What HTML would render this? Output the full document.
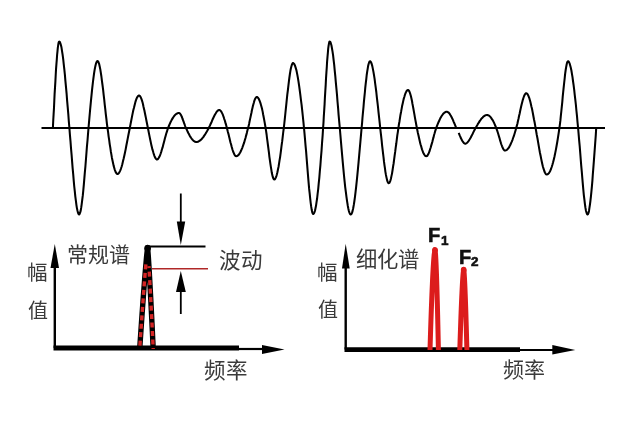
<!DOCTYPE html>
<html lang="zh-CN"><head><meta charset="utf-8"><style>
html,body{margin:0;padding:0;background:#fff;width:640px;height:426px;overflow:hidden}
svg{position:absolute;left:0;top:0}
.t{position:absolute;font-family:"Liberation Serif",serif;color:#3a3a3a;white-space:nowrap;line-height:1;will-change:transform}
.f{position:absolute;font-family:"Liberation Sans",sans-serif;font-weight:bold;color:#111;white-space:nowrap;line-height:1;-webkit-text-stroke:0.6px #111;will-change:transform}
</style></head><body>
<svg width="640" height="426" viewBox="0 0 640 426">
<line x1="41.5" y1="128" x2="605" y2="128" stroke="#000" stroke-width="2"/>
<path d="M52.9,128.0 L53.2,121.2 L53.6,114.4 L54.0,107.6 L54.3,100.8 L54.6,94.1 L55.0,87.6 L55.4,81.3 L55.7,75.3 L56.0,69.6 L56.4,64.3 L56.8,59.4 L57.1,55.0 L57.5,51.1 L57.8,47.8 L58.2,45.1 L58.5,43.1 L58.9,41.9 L59.2,41.5 L59.8,41.9 L60.3,43.1 L60.9,45.0 L61.5,47.6 L62.0,50.9 L62.6,54.7 L63.2,59.1 L63.7,63.9 L64.3,69.2 L64.9,74.9 L65.4,80.9 L66.0,87.2 L66.6,93.7 L67.1,100.4 L67.7,107.2 L68.3,114.1 L68.8,121.1 L69.4,128.0 L69.4,128.0 L69.9,134.6 L70.5,141.3 L71.0,148.1 L71.6,154.8 L72.1,161.4 L72.6,167.9 L73.2,174.2 L73.7,180.3 L74.2,186.0 L74.8,191.4 L75.3,196.3 L75.9,200.8 L76.4,204.8 L76.9,208.1 L77.5,210.8 L78.0,212.8 L78.6,214.1 L79.1,214.5 L79.6,214.0 L80.1,212.7 L80.7,210.6 L81.2,207.7 L81.7,204.2 L82.2,200.1 L82.8,195.4 L83.3,190.3 L83.8,184.8 L84.3,178.9 L84.8,172.8 L85.4,166.5 L85.9,160.0 L86.4,153.5 L86.9,146.9 L87.5,140.5 L88.0,134.1 L88.5,128.0 L88.5,128.0 L89.0,122.3 L89.5,116.6 L90.0,111.0 L90.5,105.6 L91.0,100.3 L91.5,95.3 L92.0,90.4 L92.5,85.8 L93.0,81.5 L93.5,77.6 L94.0,73.9 L94.5,70.7 L95.0,67.9 L95.5,65.5 L96.0,63.6 L96.5,62.2 L97.0,61.3 L97.5,61.0 L98.1,61.4 L98.6,62.5 L99.2,64.2 L99.7,66.5 L100.3,69.4 L100.8,72.7 L101.4,76.5 L101.9,80.6 L102.5,85.0 L103.1,89.6 L103.6,94.4 L104.2,99.3 L104.7,104.3 L105.3,109.3 L105.8,114.2 L106.4,119.0 L106.9,123.6 L107.5,128.0 L107.5,128.0 L108.1,132.2 L108.6,136.3 L109.2,140.2 L109.7,144.1 L110.3,147.7 L110.8,151.2 L111.4,154.6 L111.9,157.7 L112.5,160.5 L113.1,163.2 L113.6,165.6 L114.2,167.7 L114.7,169.6 L115.3,171.1 L115.8,172.4 L116.4,173.3 L116.9,173.8 L117.5,174.0 L118.2,173.8 L118.9,173.1 L119.5,172.0 L120.2,170.6 L120.9,168.8 L121.6,166.7 L122.3,164.3 L122.9,161.6 L123.6,158.8 L124.3,155.7 L125.0,152.5 L125.7,149.1 L126.3,145.7 L127.0,142.2 L127.7,138.6 L128.4,135.0 L129.1,131.5 L129.8,128.0 L129.8,128.0 L130.3,125.4 L130.8,122.8 L131.3,120.2 L131.8,117.6 L132.3,115.1 L132.8,112.6 L133.3,110.2 L133.9,108.0 L134.4,105.9 L134.9,103.9 L135.4,102.1 L135.9,100.4 L136.4,99.0 L136.9,97.8 L137.5,96.8 L138.0,96.1 L138.5,95.7 L139.0,95.5 L139.5,95.7 L140.0,96.1 L140.5,96.9 L141.0,97.9 L141.5,99.2 L142.0,100.6 L142.5,102.3 L143.0,104.2 L143.4,106.2 L143.9,108.4 L144.4,110.6 L144.9,113.0 L145.4,115.5 L145.9,117.9 L146.4,120.5 L146.9,123.0 L147.4,125.5 L147.9,128.0 L147.9,128.0 L148.4,130.5 L148.9,133.1 L149.4,135.6 L149.9,138.1 L150.4,140.5 L150.9,142.9 L151.4,145.2 L151.9,147.3 L152.4,149.4 L153.0,151.3 L153.5,153.1 L154.0,154.7 L154.5,156.1 L155.0,157.3 L155.5,158.2 L156.0,158.9 L156.5,159.4 L157.0,159.5 L157.6,159.3 L158.2,158.7 L158.8,157.8 L159.5,156.6 L160.1,155.2 L160.7,153.5 L161.3,151.6 L161.9,149.5 L162.6,147.4 L163.2,145.1 L163.8,142.8 L164.4,140.5 L165.0,138.1 L165.6,135.9 L166.2,133.7 L166.9,131.6 L167.5,129.7 L168.1,128.0 L168.1,128.0 L168.7,126.5 L169.3,125.0 L169.9,123.6 L170.5,122.3 L171.1,121.1 L171.7,119.9 L172.3,118.9 L172.9,117.9 L173.5,117.0 L174.1,116.2 L174.7,115.4 L175.3,114.8 L175.9,114.3 L176.5,113.8 L177.1,113.5 L177.7,113.2 L178.3,113.1 L178.9,113.0 L179.3,113.1 L179.7,113.3 L180.1,113.7 L180.5,114.3 L180.9,114.9 L181.3,115.7 L181.7,116.5 L182.1,117.5 L182.4,118.5 L182.8,119.5 L183.2,120.6 L183.6,121.7 L184.0,122.8 L184.4,123.9 L184.8,125.0 L185.2,126.1 L185.6,127.1 L186.0,128.0 L186.0,128.0 L186.6,129.3 L187.2,130.6 L187.7,131.8 L188.3,133.0 L188.9,134.1 L189.5,135.2 L190.0,136.2 L190.6,137.1 L191.2,138.0 L191.8,138.8 L192.4,139.5 L192.9,140.1 L193.5,140.7 L194.1,141.2 L194.7,141.5 L195.2,141.8 L195.8,141.9 L196.4,142.0 L197.1,141.9 L197.8,141.8 L198.5,141.5 L199.1,141.1 L199.8,140.7 L200.5,140.1 L201.2,139.5 L201.9,138.8 L202.6,137.9 L203.3,137.1 L203.9,136.1 L204.6,135.1 L205.3,134.1 L206.0,132.9 L206.7,131.8 L207.4,130.6 L208.1,129.3 L208.8,128.0 L208.8,128.0 L209.3,126.8 L209.9,125.6 L210.5,124.3 L211.1,123.0 L211.7,121.7 L212.2,120.4 L212.8,119.0 L213.4,117.7 L214.0,116.5 L214.6,115.3 L215.2,114.2 L215.8,113.2 L216.3,112.3 L216.9,111.5 L217.5,110.9 L218.1,110.4 L218.7,110.1 L219.2,110.0 L219.7,110.1 L220.1,110.3 L220.5,110.7 L220.9,111.2 L221.4,111.8 L221.8,112.6 L222.2,113.4 L222.7,114.4 L223.1,115.5 L223.5,116.6 L223.9,117.8 L224.3,119.1 L224.8,120.5 L225.2,121.9 L225.6,123.4 L226.1,124.9 L226.5,126.4 L226.9,128.0 L226.9,128.0 L227.4,130.0 L227.9,132.0 L228.5,134.1 L229.0,136.2 L229.5,138.3 L230.0,140.5 L230.5,142.5 L231.1,144.5 L231.6,146.5 L232.1,148.3 L232.6,150.0 L233.1,151.5 L233.7,152.9 L234.2,154.0 L234.7,155.0 L235.2,155.7 L235.7,156.1 L236.2,156.2 L236.9,156.1 L237.6,155.8 L238.2,155.3 L238.9,154.5 L239.5,153.6 L240.2,152.4 L240.9,151.1 L241.5,149.7 L242.2,148.1 L242.8,146.3 L243.5,144.4 L244.2,142.4 L244.8,140.2 L245.5,138.0 L246.1,135.6 L246.8,133.1 L247.4,130.6 L248.1,128.0 L248.1,128.0 L248.6,126.0 L249.1,123.9 L249.5,121.7 L250.0,119.4 L250.5,117.1 L251.0,114.8 L251.5,112.5 L251.9,110.3 L252.4,108.2 L252.9,106.1 L253.4,104.2 L253.9,102.5 L254.3,100.9 L254.8,99.6 L255.3,98.5 L255.8,97.7 L256.3,97.2 L256.8,97.0 L257.2,97.1 L257.7,97.5 L258.2,98.0 L258.7,98.8 L259.2,99.8 L259.7,101.0 L260.2,102.4 L260.7,103.9 L261.2,105.7 L261.7,107.6 L262.2,109.6 L262.7,111.9 L263.1,114.2 L263.6,116.7 L264.1,119.4 L264.6,122.1 L265.1,125.0 L265.6,128.0 L265.6,128.0 L266.1,131.1 L266.6,134.5 L267.0,138.0 L267.5,141.7 L268.0,145.5 L268.5,149.3 L269.0,153.1 L269.4,156.8 L269.9,160.4 L270.4,163.9 L270.9,167.1 L271.4,170.1 L271.8,172.8 L272.3,175.1 L272.8,176.9 L273.3,178.3 L273.8,179.2 L274.2,179.5 L274.8,179.3 L275.3,178.6 L275.8,177.6 L276.4,176.1 L276.9,174.3 L277.4,172.2 L277.9,169.7 L278.5,167.0 L279.0,163.9 L279.5,160.6 L280.1,157.1 L280.6,153.4 L281.1,149.5 L281.6,145.4 L282.2,141.2 L282.7,136.9 L283.2,132.5 L283.8,128.0 L283.8,128.0 L284.3,123.5 L284.8,118.8 L285.3,114.0 L285.8,109.1 L286.3,104.3 L286.8,99.4 L287.3,94.6 L287.9,90.0 L288.4,85.6 L288.9,81.4 L289.4,77.5 L289.9,74.0 L290.4,70.8 L290.9,68.2 L291.5,66.0 L292.0,64.4 L292.5,63.3 L293.0,63.0 L293.6,63.3 L294.2,64.0 L294.8,65.2 L295.4,66.9 L296.1,69.1 L296.7,71.6 L297.3,74.6 L297.9,77.9 L298.5,81.6 L299.1,85.6 L299.7,90.0 L300.3,94.7 L300.9,99.6 L301.6,104.8 L302.2,110.3 L302.8,116.0 L303.4,121.9 L304.0,128.0 L304.0,128.0 L304.5,133.4 L305.0,139.2 L305.5,145.2 L306.1,151.4 L306.6,157.8 L307.1,164.2 L307.6,170.5 L308.1,176.7 L308.6,182.7 L309.1,188.4 L309.7,193.7 L310.2,198.6 L310.7,203.0 L311.2,206.7 L311.7,209.8 L312.2,212.1 L312.7,213.5 L313.2,214.0 L313.8,213.7 L314.3,212.6 L314.9,211.0 L315.4,208.7 L316.0,205.8 L316.5,202.4 L317.1,198.5 L317.6,194.0 L318.2,189.1 L318.7,183.7 L319.3,177.9 L319.8,171.7 L320.4,165.2 L320.9,158.3 L321.5,151.1 L322.0,143.6 L322.6,135.9 L323.1,128.0 L323.1,128.0 L323.5,122.4 L323.8,116.5 L324.2,110.4 L324.6,104.1 L324.9,97.7 L325.3,91.2 L325.7,84.9 L326.0,78.6 L326.4,72.6 L326.8,66.9 L327.1,61.6 L327.5,56.8 L327.9,52.4 L328.2,48.7 L328.6,45.7 L329.0,43.4 L329.3,42.0 L329.7,41.5 L330.3,41.9 L330.8,43.2 L331.4,45.2 L331.9,48.0 L332.5,51.4 L333.1,55.4 L333.6,59.9 L334.2,64.9 L334.7,70.3 L335.3,76.1 L335.8,82.1 L336.4,88.4 L337.0,94.9 L337.5,101.5 L338.1,108.2 L338.6,114.9 L339.2,121.5 L339.8,128.0 L339.8,128.0 L340.4,135.0 L341.0,142.1 L341.6,149.1 L342.2,155.9 L342.8,162.7 L343.4,169.2 L344.0,175.5 L344.6,181.4 L345.2,187.1 L345.9,192.3 L346.5,197.1 L347.1,201.4 L347.7,205.2 L348.3,208.4 L348.9,211.0 L349.5,212.9 L350.1,214.1 L350.8,214.5 L351.4,214.1 L352.0,212.9 L352.6,210.9 L353.2,208.2 L353.8,204.9 L354.4,201.0 L355.0,196.6 L355.6,191.7 L356.2,186.4 L356.8,180.7 L357.4,174.6 L358.0,168.3 L358.6,161.8 L359.2,155.2 L359.8,148.4 L360.4,141.6 L361.0,134.8 L361.6,128.0 L361.6,128.0 L362.1,122.8 L362.5,117.5 L363.0,112.2 L363.5,107.0 L363.9,101.8 L364.4,96.8 L364.9,92.0 L365.3,87.3 L365.8,82.9 L366.3,78.8 L366.7,75.0 L367.2,71.6 L367.7,68.6 L368.1,66.1 L368.6,64.0 L369.1,62.5 L369.5,61.6 L370.0,61.2 L370.6,61.6 L371.1,62.5 L371.7,64.0 L372.3,66.1 L372.8,68.6 L373.4,71.6 L374.0,75.1 L374.6,78.8 L375.1,83.0 L375.7,87.4 L376.3,92.0 L376.8,96.9 L377.4,101.9 L378.0,107.0 L378.5,112.2 L379.1,117.5 L379.7,122.8 L380.2,128.0 L380.2,128.0 L380.7,132.3 L381.2,136.7 L381.7,141.1 L382.1,145.4 L382.6,149.6 L383.1,153.8 L383.6,157.8 L384.0,161.7 L384.5,165.3 L385.0,168.7 L385.4,171.8 L385.9,174.7 L386.4,177.1 L386.9,179.3 L387.3,180.9 L387.8,182.2 L388.3,183.0 L388.8,183.2 L389.3,182.9 L389.8,182.0 L390.4,180.6 L390.9,178.7 L391.4,176.4 L392.0,173.6 L392.5,170.5 L393.0,167.1 L393.6,163.5 L394.1,159.7 L394.6,155.8 L395.2,151.7 L395.7,147.6 L396.3,143.5 L396.8,139.4 L397.3,135.4 L397.9,131.6 L398.4,128.0 L398.4,128.0 L398.9,124.5 L399.5,121.2 L400.0,117.9 L400.5,114.7 L401.1,111.7 L401.6,108.8 L402.1,106.1 L402.7,103.5 L403.2,101.1 L403.7,98.9 L404.3,97.0 L404.8,95.2 L405.3,93.7 L405.9,92.4 L406.4,91.4 L406.9,90.6 L407.5,90.2 L408.0,90.0 L408.5,90.2 L409.0,90.8 L409.5,91.8 L410.0,93.1 L410.5,94.7 L411.0,96.6 L411.5,98.7 L412.0,101.0 L412.4,103.5 L412.9,106.1 L413.4,108.8 L413.9,111.6 L414.4,114.4 L414.9,117.3 L415.4,120.1 L415.9,122.8 L416.4,125.5 L416.9,128.0 L416.9,128.0 L417.4,130.5 L417.9,133.0 L418.5,135.5 L419.0,137.8 L419.5,140.0 L420.0,142.2 L420.5,144.2 L421.1,146.1 L421.6,147.9 L422.1,149.6 L422.6,151.0 L423.1,152.4 L423.7,153.5 L424.2,154.5 L424.7,155.2 L425.2,155.8 L425.7,156.1 L426.2,156.2 L426.8,156.1 L427.4,155.6 L427.9,154.8 L428.5,153.8 L429.0,152.5 L429.6,151.0 L430.1,149.3 L430.7,147.5 L431.2,145.6 L431.8,143.6 L432.4,141.6 L432.9,139.5 L433.5,137.4 L434.0,135.3 L434.6,133.3 L435.1,131.4 L435.7,129.6 L436.2,128.0 L436.2,128.0 L436.8,126.4 L437.4,124.9 L438.0,123.4 L438.6,122.0 L439.2,120.7 L439.8,119.4 L440.3,118.3 L440.9,117.2 L441.5,116.2 L442.1,115.3 L442.7,114.5 L443.2,113.8 L443.8,113.2 L444.4,112.7 L445.0,112.3 L445.6,112.0 L446.2,111.8 L446.8,111.8 L447.3,111.8 L447.8,112.1 L448.3,112.4 L448.9,112.9 L449.4,113.5 L449.9,114.2 L450.4,115.1 L451.0,116.0 L451.5,117.0 L452.0,118.0 L452.6,119.2 L453.1,120.3 L453.6,121.6 L454.1,122.8 L454.7,124.1 L455.2,125.4 L455.7,126.7 L456.2,128.0M458.7,132.9 L459.2,134.1 L459.7,135.3 L460.2,136.4 L460.6,137.5 L461.1,138.6 L461.6,139.5 L462.1,140.4 L462.6,141.3 L463.1,142.0 L463.6,142.6 L464.0,143.1 L464.5,143.4 L465.0,143.7 L465.5,143.8 L465.6,143.7 L466.2,143.4 L466.8,143.0 L467.4,142.5 L467.9,141.8 L468.5,141.1 L469.1,140.2 L469.7,139.3 L470.3,138.3 L470.9,137.2 L471.5,136.1 L472.1,134.9 L472.7,133.7 L473.2,132.6 L473.8,131.4 L474.4,130.2 L475.0,129.1 L475.6,128.0 L475.6,128.0 L476.2,126.9 L476.9,125.7 L477.5,124.7 L478.1,123.6 L478.8,122.6 L479.4,121.6 L480.0,120.6 L480.7,119.8 L481.3,118.9 L481.9,118.2 L482.6,117.5 L483.2,116.8 L483.8,116.3 L484.5,115.8 L485.1,115.5 L485.7,115.2 L486.4,115.1 L487.0,115.0 L487.5,115.0 L488.0,115.2 L488.5,115.4 L489.1,115.7 L489.6,116.1 L490.1,116.6 L490.6,117.2 L491.1,117.8 L491.6,118.6 L492.1,119.4 L492.7,120.2 L493.2,121.1 L493.7,122.1 L494.2,123.2 L494.7,124.3 L495.2,125.5 L495.7,126.7 L496.2,128.0 L496.2,128.0 L496.7,129.3 L497.2,130.7 L497.7,132.2 L498.2,133.8 L498.7,135.5 L499.2,137.1 L499.7,138.8 L500.1,140.4 L500.6,142.0 L501.1,143.6 L501.6,145.0 L502.1,146.3 L502.6,147.5 L503.1,148.5 L503.5,149.3 L504.0,150.0 L504.5,150.4 L505.0,150.5 L505.6,150.4 L506.2,150.2 L506.9,149.8 L507.5,149.2 L508.1,148.5 L508.8,147.6 L509.4,146.6 L510.0,145.5 L510.6,144.2 L511.2,142.9 L511.9,141.4 L512.5,139.8 L513.1,138.0 L513.8,136.2 L514.4,134.3 L515.0,132.3 L515.6,130.2 L516.2,128.0 L516.2,128.0 L516.8,125.9 L517.4,123.7 L517.9,121.3 L518.5,118.8 L519.0,116.3 L519.6,113.7 L520.1,111.2 L520.7,108.6 L521.2,106.2 L521.8,103.8 L522.4,101.6 L522.9,99.6 L523.5,97.8 L524.0,96.3 L524.6,95.0 L525.1,94.1 L525.7,93.5 L526.2,93.2 L526.8,93.4 L527.3,93.9 L527.8,94.6 L528.3,95.7 L528.8,96.9 L529.4,98.4 L529.9,100.2 L530.4,102.1 L530.9,104.2 L531.4,106.5 L532.0,108.8 L532.5,111.4 L533.0,114.0 L533.5,116.7 L534.0,119.5 L534.6,122.3 L535.1,125.1 L535.6,128.0 L535.6,128.0 L536.2,131.5 L536.8,135.0 L537.5,138.5 L538.1,142.1 L538.7,145.7 L539.3,149.1 L539.9,152.5 L540.6,155.8 L541.2,158.9 L541.8,161.8 L542.4,164.5 L543.0,167.0 L543.7,169.1 L544.3,171.0 L544.9,172.5 L545.5,173.6 L546.1,174.3 L546.8,174.5 L547.5,174.3 L548.2,173.9 L548.9,173.1 L549.6,172.0 L550.3,170.7 L551.0,169.0 L551.7,167.0 L552.4,164.8 L553.1,162.3 L553.8,159.5 L554.5,156.5 L555.2,153.1 L555.9,149.6 L556.6,145.7 L557.3,141.7 L558.0,137.4 L558.7,132.8 L559.4,128.0 L559.4,128.0 L559.9,124.4 L560.4,120.4 L560.8,116.1 L561.3,111.5 L561.8,106.7 L562.3,101.8 L562.7,96.8 L563.2,91.9 L563.7,87.1 L564.2,82.5 L564.7,78.1 L565.1,74.1 L565.6,70.5 L566.1,67.4 L566.6,64.8 L567.0,62.9 L567.5,61.7 L568.0,61.2 L568.6,61.5 L569.1,62.3 L569.7,63.7 L570.2,65.5 L570.8,67.8 L571.4,70.5 L571.9,73.6 L572.5,77.1 L573.0,81.0 L573.6,85.2 L574.2,89.8 L574.7,94.6 L575.3,99.6 L575.9,105.0 L576.4,110.5 L577.0,116.2 L577.5,122.0 L578.1,128.0 L578.1,128.0 L578.6,133.8 L579.1,139.9 L579.7,146.1 L580.2,152.5 L580.7,159.0 L581.2,165.4 L581.8,171.8 L582.3,178.0 L582.8,183.9 L583.3,189.5 L583.8,194.8 L584.4,199.6 L584.9,203.8 L585.4,207.5 L585.9,210.4 L586.5,212.6 L587.0,214.0 L587.5,214.5 L588.0,214.1 L588.5,212.9 L589.0,210.9 L589.4,208.2 L589.9,204.9 L590.4,201.0 L590.9,196.6 L591.4,191.7 L591.9,186.4 L592.4,180.7 L592.8,174.7 L593.3,168.4 L593.8,161.9 L594.3,155.2 L594.8,148.4 L595.3,141.6 L595.8,134.8 L596.2,128.0" fill="none" stroke="#000" stroke-width="2.05" stroke-linejoin="round"/>
<!-- left chart -->
<line x1="54.8" y1="266" x2="54.8" y2="348" stroke="#000" stroke-width="2.4"/>
<polygon points="54.8,244 50.5,268 59,268" fill="#000"/>
<line x1="53.5" y1="348" x2="239" y2="348" stroke="#000" stroke-width="4.8"/>
<line x1="239" y1="349" x2="263" y2="349" stroke="#000" stroke-width="2.2"/>
<polygon points="284.5,349.5 262,345 262,354" fill="#000"/>
<line x1="148" y1="246.5" x2="205.5" y2="246.5" stroke="#000" stroke-width="1.8"/>
<line x1="152" y1="268.7" x2="208" y2="268.7" stroke="#b02828" stroke-width="1.6"/>
<line x1="180.8" y1="193.5" x2="180.8" y2="224" stroke="#000" stroke-width="1.8"/>
<polygon points="176.8,221.5 185.2,221.5 180.8,245" fill="#000"/>
<line x1="180.8" y1="290" x2="180.8" y2="314" stroke="#000" stroke-width="1.8"/>
<polygon points="176,292 185.8,292 180.8,271" fill="#000"/>
<path d="M139.70,349.00 L140.26,340.54 L140.83,332.08 L141.41,323.62 L142.00,315.17 L142.60,306.71 L143.22,298.25 L143.85,289.79 L144.49,281.33 L145.17,272.88 L145.88,264.42 L146.64,255.96 L147.60,247.50 L148.28,255.96 L148.82,264.42 L149.32,272.88 L149.80,281.33 L150.26,289.79 L150.71,298.25 L151.14,306.71 L151.57,315.17 L151.99,323.62 L152.40,332.08 L152.80,340.54 L153.20,349.00" fill="none" stroke="#000" stroke-width="5.4" stroke-linejoin="round"/>
<circle cx="147.6" cy="248.3" r="3.3" fill="#000"/>
<path d="M145.88,264.42 L145.73,266.11 L145.59,267.80 L145.45,269.49 L145.31,271.18 L145.17,272.88 L145.03,274.57 L144.90,276.26 L144.76,277.95 L144.63,279.64 L144.49,281.33 L144.36,283.02 L144.23,284.72 L144.10,286.41 L143.97,288.10 L143.85,289.79 L143.72,291.48 L143.59,293.18 L143.47,294.87 L143.34,296.56 L143.22,298.25 L143.09,299.94 L142.97,301.63 L142.85,303.32 L142.73,305.02 L142.60,306.71 L142.48,308.40 L142.36,310.09 L142.24,311.78 L142.12,313.48 L142.00,315.17 L141.88,316.86 L141.77,318.55 L141.65,320.24 L141.53,321.93 L141.41,323.62 L141.30,325.32 L141.18,327.01 L141.06,328.70 L140.95,330.39 L140.83,332.08 L140.72,333.77 L140.60,335.47 L140.49,337.16 L140.38,338.85 L140.26,340.54 L140.15,342.23 L140.04,343.93 L139.92,345.62 L139.81,347.31 L139.70,349.00" fill="none" stroke="#d42525" stroke-width="3.4" stroke-dasharray="5 3.5"/>
<path d="M148.92,266.11 L149.03,267.80 L149.13,269.49 L149.23,271.18 L149.32,272.88 L149.42,274.57 L149.52,276.26 L149.61,277.95 L149.71,279.64 L149.80,281.33 L149.89,283.02 L149.99,284.72 L150.08,286.41 L150.17,288.10 L150.26,289.79 L150.35,291.48 L150.44,293.18 L150.53,294.87 L150.62,296.56 L150.71,298.25 L150.79,299.94 L150.88,301.63 L150.97,303.32 L151.06,305.02 L151.14,306.71 L151.23,308.40 L151.31,310.09 L151.40,311.78 L151.48,313.48 L151.57,315.17 L151.65,316.86 L151.74,318.55 L151.82,320.24 L151.90,321.93 L151.99,323.62 L152.07,325.32 L152.15,327.01 L152.23,328.70 L152.31,330.39 L152.40,332.08 L152.48,333.77 L152.56,335.47 L152.64,337.16 L152.72,338.85 L152.80,340.54 L152.88,342.23 L152.96,343.93 L153.04,345.62 L153.12,347.31 L153.20,349.00" fill="none" stroke="#d42525" stroke-width="3.4" stroke-dasharray="5 3.5" stroke-dashoffset="3"/>
<!-- right chart -->
<line x1="345.7" y1="266" x2="345.7" y2="349.5" stroke="#000" stroke-width="2.4"/>
<polygon points="345.7,243.7 342,268.5 349.7,268.5" fill="#000"/>
<line x1="344.5" y1="349.6" x2="520" y2="349.6" stroke="#000" stroke-width="4.6"/>
<line x1="520" y1="350" x2="553" y2="350" stroke="#000" stroke-width="2.2"/>
<polygon points="575.3,350 552.3,345 552.3,354.5" fill="#000"/>
<path d="M430.00,350.00 L430.15,344.98 L430.31,339.96 L430.46,334.94 L430.63,329.92 L430.79,324.90 L430.96,319.88 L431.14,314.86 L431.32,309.84 L431.51,304.82 L431.70,299.80 L431.90,294.78 L432.11,289.76 L432.34,284.74 L432.57,279.72 L432.82,274.70 L433.10,269.68 L433.40,264.66 L433.74,259.64 L434.17,254.62 L435.00,249.60 L435.56,254.62 L435.85,259.64 L436.09,264.66 L436.29,269.68 L436.48,274.70 L436.65,279.72 L436.81,284.74 L436.96,289.76 L437.11,294.78 L437.24,299.80 L437.38,304.82 L437.50,309.84 L437.63,314.86 L437.74,319.88 L437.86,324.90 L437.97,329.92 L438.08,334.94 L438.19,339.96 L438.30,344.98 L438.40,350.00" fill="none" stroke="#dc1c1c" stroke-width="5" stroke-linejoin="round"/>
<circle cx="435" cy="250.2" r="2.9" fill="#dc1c1c"/>
<path d="M459.80,350.00 L459.93,345.97 L460.06,341.93 L460.19,337.89 L460.33,333.86 L460.47,329.82 L460.61,325.79 L460.75,321.75 L460.90,317.72 L461.06,313.69 L461.21,309.65 L461.38,305.62 L461.55,301.58 L461.73,297.55 L461.92,293.51 L462.12,289.48 L462.33,285.44 L462.56,281.41 L462.83,277.37 L463.14,273.34 L463.70,269.30 L464.16,273.34 L464.42,277.37 L464.63,281.41 L464.82,285.44 L465.00,289.48 L465.16,293.51 L465.32,297.55 L465.46,301.58 L465.60,305.62 L465.74,309.65 L465.87,313.69 L466.00,317.72 L466.12,321.75 L466.24,325.79 L466.35,329.82 L466.47,333.86 L466.58,337.89 L466.69,341.93 L466.80,345.97 L466.90,350.00" fill="none" stroke="#dc1c1c" stroke-width="5" stroke-linejoin="round"/>
<circle cx="463.7" cy="269.9" r="2.9" fill="#dc1c1c"/>
</svg>
<div class="t" style="left:67px;top:245px;font-size:21px">常规谱</div>
<div class="t" style="left:219px;top:251px;font-size:21.5px">波动</div>
<div class="t" style="left:204px;top:361px;font-size:21.5px">频率</div>
<div class="t" style="left:27px;top:262.5px;font-size:20.5px">幅</div>
<div class="t" style="left:27.5px;top:300.5px;font-size:20px">值</div>
<div class="t" style="left:317px;top:262.5px;font-size:20.5px">幅</div>
<div class="t" style="left:318px;top:299.5px;font-size:20px">值</div>
<div class="t" style="left:356px;top:250px;font-size:21.3px">细化谱</div>
<div class="t" style="left:503px;top:360px;font-size:21px">频率</div>
<div class="f" style="left:428px;top:225px;font-size:20px">F</div><div class="f" style="left:440.6px;top:234px;font-size:13.5px">1</div>
<div class="f" style="left:459px;top:247px;font-size:20px">F</div><div class="f" style="left:470.6px;top:255px;font-size:13.5px">2</div>
</body></html>
